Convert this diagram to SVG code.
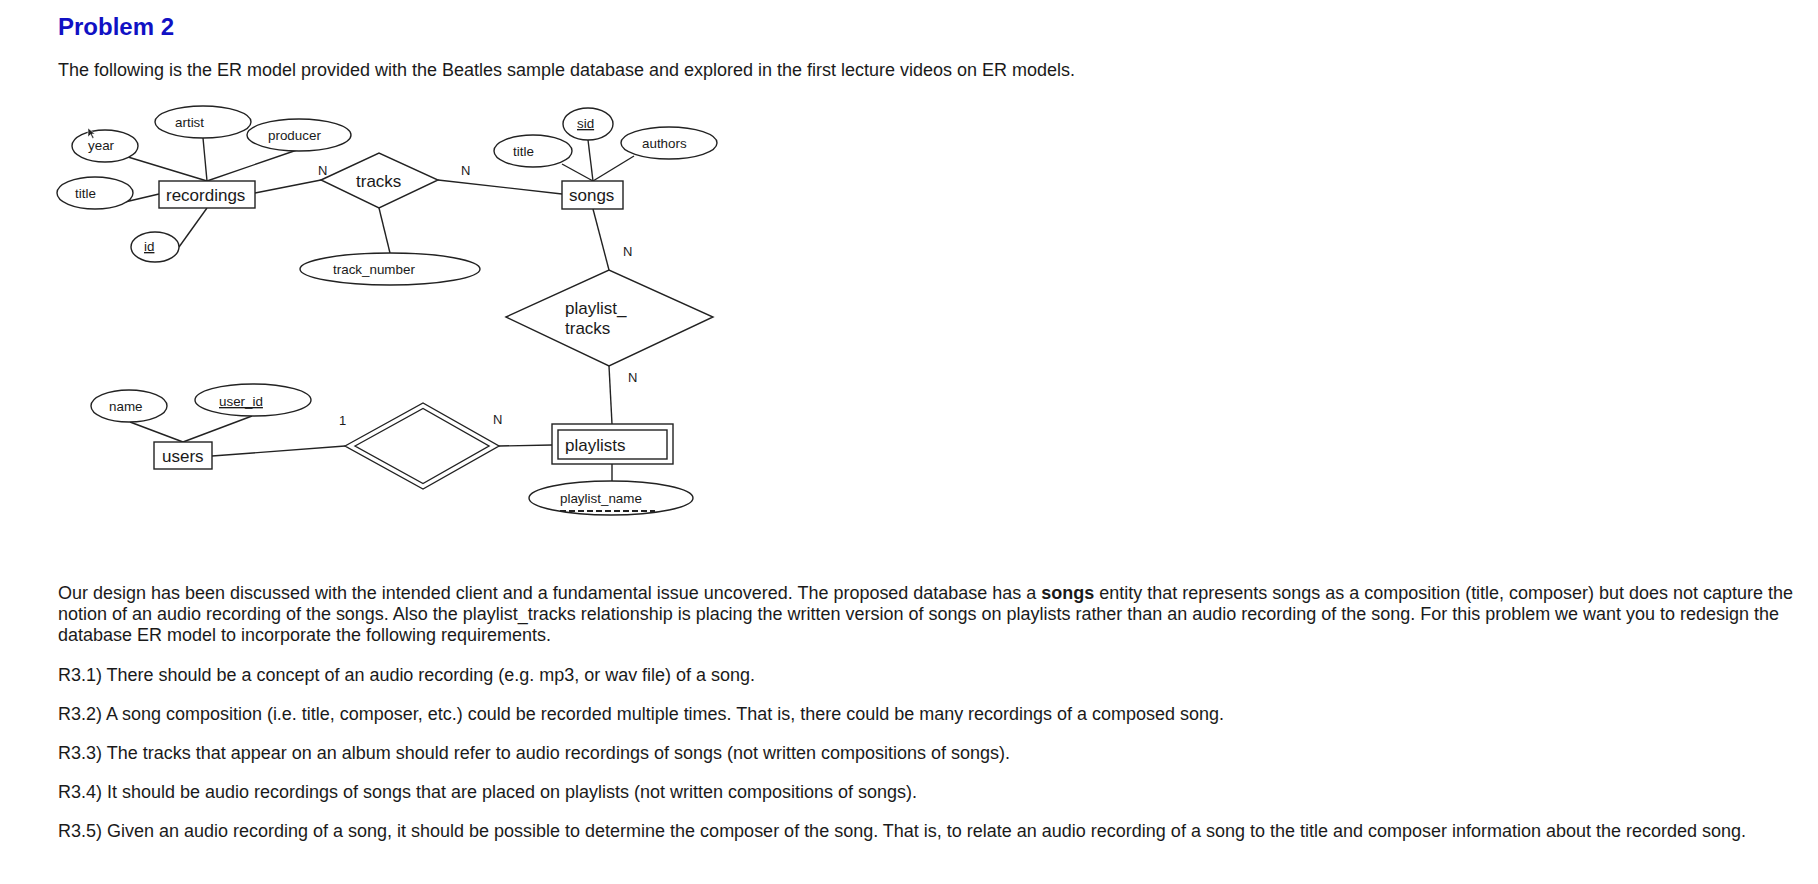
<svg xmlns="http://www.w3.org/2000/svg" width="1818" height="884" viewBox="0 0 1818 884">
<style>
.bg{fill:#ffffff}
.h{font-family:"Liberation Sans",Arial,sans-serif;font-weight:bold;font-size:24px;fill:#1111c4}
.p{font-family:"Liberation Sans",Arial,sans-serif;font-size:17.5px;fill:#1a1a1a}
.b{font-weight:bold}
.shape{fill:#ffffff;stroke:#222;stroke-width:1.4}
.ln{stroke:#222;stroke-width:1.4;fill:none}
.ent{font-family:"Liberation Sans",Arial,sans-serif;font-size:17px;fill:#1a1a1a}
.att{font-family:"Liberation Sans",Arial,sans-serif;font-size:13.4px;fill:#1a1a1a}
.card{font-family:"Liberation Sans",Arial,sans-serif;font-size:13px;fill:#1a1a1a}
.u{text-decoration:underline}
</style>
<rect class="bg" x="0" y="0" width="1818" height="884"/>

<text class="h" x="58" y="35">Problem 2</text>
<text class="p" x="58" y="76" textLength="1017" lengthAdjust="spacingAndGlyphs">The following is the ER model provided with the Beatles sample database and explored in the first lecture videos on ER models.</text>

<g id="connectors">
<line class="ln" x1="128" y1="157" x2="207" y2="181"/>
<line class="ln" x1="203" y1="138" x2="207" y2="181"/>
<line class="ln" x1="297" y1="150" x2="207" y2="181"/>
<line class="ln" x1="125" y1="202" x2="159" y2="194"/>
<line class="ln" x1="179" y1="247" x2="207" y2="208"/>
<line class="ln" x1="255" y1="193" x2="321" y2="180"/>
<line class="ln" x1="379" y1="208" x2="390" y2="253"/>
<line class="ln" x1="438" y1="180" x2="562" y2="194"/>
<line class="ln" x1="562" y1="164" x2="593" y2="181"/>
<line class="ln" x1="588" y1="140" x2="593" y2="181"/>
<line class="ln" x1="634" y1="156" x2="593" y2="181"/>
<line class="ln" x1="593" y1="209" x2="609" y2="270"/>
<line class="ln" x1="609" y1="366" x2="612" y2="424"/>
<line class="ln" x1="612" y1="464" x2="612" y2="481"/>
<line class="ln" x1="130" y1="422" x2="183" y2="442"/>
<line class="ln" x1="252" y1="416" x2="183" y2="442"/>
<line class="ln" x1="212" y1="456" x2="345" y2="446"/>
<line class="ln" x1="499" y1="446" x2="552" y2="445"/>
<text class="card" x="318" y="175">N</text>
<text class="card" x="461" y="175">N</text>
<text class="card" x="623" y="256">N</text>
<text class="card" x="628" y="382">N</text>
<text class="card" x="493" y="424">N</text>
<text class="card" x="339" y="425">1</text>
</g>

<g id="year"><ellipse class="shape" cx="105" cy="146" rx="33" ry="16"/><text class="att" x="88" y="150">year</text></g>
<g id="cursor"><path d="M88,128 L88,137 L90.5,134.5 L92.5,138.5 L94,137.8 L92,134 L95,134 Z" fill="#222" stroke="#fff" stroke-width="0.6"/></g>
<g id="artist"><ellipse class="shape" cx="203" cy="122" rx="48" ry="16"/><text class="att" x="175" y="127">artist</text></g>
<g id="producer"><ellipse class="shape" cx="299" cy="135" rx="52" ry="16"/><text class="att" x="268" y="140">producer</text></g>
<g id="rec_title"><ellipse class="shape" cx="95" cy="193" rx="38" ry="16"/><text class="att" x="75" y="198">title</text></g>
<g id="rec_id"><ellipse class="shape" cx="155" cy="247" rx="24" ry="15"/><text class="att u" x="144" y="251">id</text></g>
<g id="recordings"><rect class="shape" x="159" y="181" width="96" height="27"/><text class="ent" x="166" y="201">recordings</text></g>
<g id="tracks"><polygon class="shape" points="321,180 379,153 438,180 379,208"/><text class="ent" x="356" y="187">tracks</text></g>
<g id="track_number"><ellipse class="shape" cx="390" cy="269" rx="90" ry="16"/><text class="att" x="333" y="274">track_number</text></g>

<g id="song_title"><ellipse class="shape" cx="533" cy="151" rx="39" ry="16"/><text class="att" x="513" y="156">title</text></g>
<g id="sid"><ellipse class="shape" cx="588" cy="124" rx="25" ry="16"/><text class="att u" x="577" y="128">sid</text></g>
<g id="authors"><ellipse class="shape" cx="669" cy="143" rx="48" ry="16"/><text class="att" x="642" y="148">authors</text></g>
<g id="songs"><rect class="shape" x="562" y="181" width="61" height="28"/><text class="ent" x="569" y="201">songs</text></g>

<g id="playlist_tracks"><polygon class="shape" points="506,317 609,270 713,317 609,366"/><text class="ent" x="565" y="314">playlist_</text><text class="ent" x="565" y="334">tracks</text></g>

<g id="name"><ellipse class="shape" cx="129" cy="406" rx="38" ry="16"/><text class="att" x="109" y="411">name</text></g>
<g id="user_id"><ellipse class="shape" cx="253" cy="400" rx="58" ry="16"/><text class="att u" x="219" y="406">user_id</text></g>
<g id="users"><rect class="shape" x="154" y="442" width="58" height="27"/><text class="ent" x="162" y="462">users</text></g>

<g id="owns"><polygon class="shape" points="345,446 423,403 499,446 423,489"/><polygon class="shape" points="355,446 423,408.5 489,446 423,483.5"/></g>

<g id="playlists"><rect class="shape" x="552" y="424" width="121" height="40"/><rect class="shape" x="558" y="430" width="109" height="29"/><text class="ent" x="565" y="451">playlists</text></g>
<g id="playlist_name"><ellipse class="shape" cx="611" cy="498" rx="82" ry="17"/><text class="att" x="560" y="503">playlist_name</text><line x1="560" y1="511" x2="655" y2="511" stroke="#222" stroke-width="2" stroke-dasharray="6,3"/></g>

<text class="p" x="58" y="599" textLength="1735" lengthAdjust="spacingAndGlyphs">Our design has been discussed with the intended client and a fundamental issue uncovered. The proposed database has a <tspan class="b">songs</tspan> entity that represents songs as a composition (title, composer) but does not capture the</text>
<text class="p" x="58" y="620" textLength="1721" lengthAdjust="spacingAndGlyphs">notion of an audio recording of the songs. Also the playlist_tracks relationship is placing the written version of songs on playlists rather than an audio recording of the song. For this problem we want you to redesign the</text>
<text class="p" x="58" y="641" textLength="493" lengthAdjust="spacingAndGlyphs">database ER model to incorporate the following requirements.</text>
<text class="p" x="58" y="681" textLength="697" lengthAdjust="spacingAndGlyphs">R3.1) There should be a concept of an audio recording (e.g. mp3, or wav file) of a song.</text>
<text class="p" x="58" y="720" textLength="1166" lengthAdjust="spacingAndGlyphs">R3.2) A song composition (i.e. title, composer, etc.) could be recorded multiple times. That is, there could be many recordings of a composed song.</text>
<text class="p" x="58" y="759" textLength="952" lengthAdjust="spacingAndGlyphs">R3.3) The tracks that appear on an album should refer to audio recordings of songs (not written compositions of songs).</text>
<text class="p" x="58" y="798" textLength="859" lengthAdjust="spacingAndGlyphs">R3.4) It should be audio recordings of songs that are placed on playlists (not written compositions of songs).</text>
<text class="p" x="58" y="837" textLength="1688" lengthAdjust="spacingAndGlyphs">R3.5) Given an audio recording of a song, it should be possible to determine the composer of the song. That is, to relate an audio recording of a song to the title and composer information about the recorded song.</text>
</svg>
